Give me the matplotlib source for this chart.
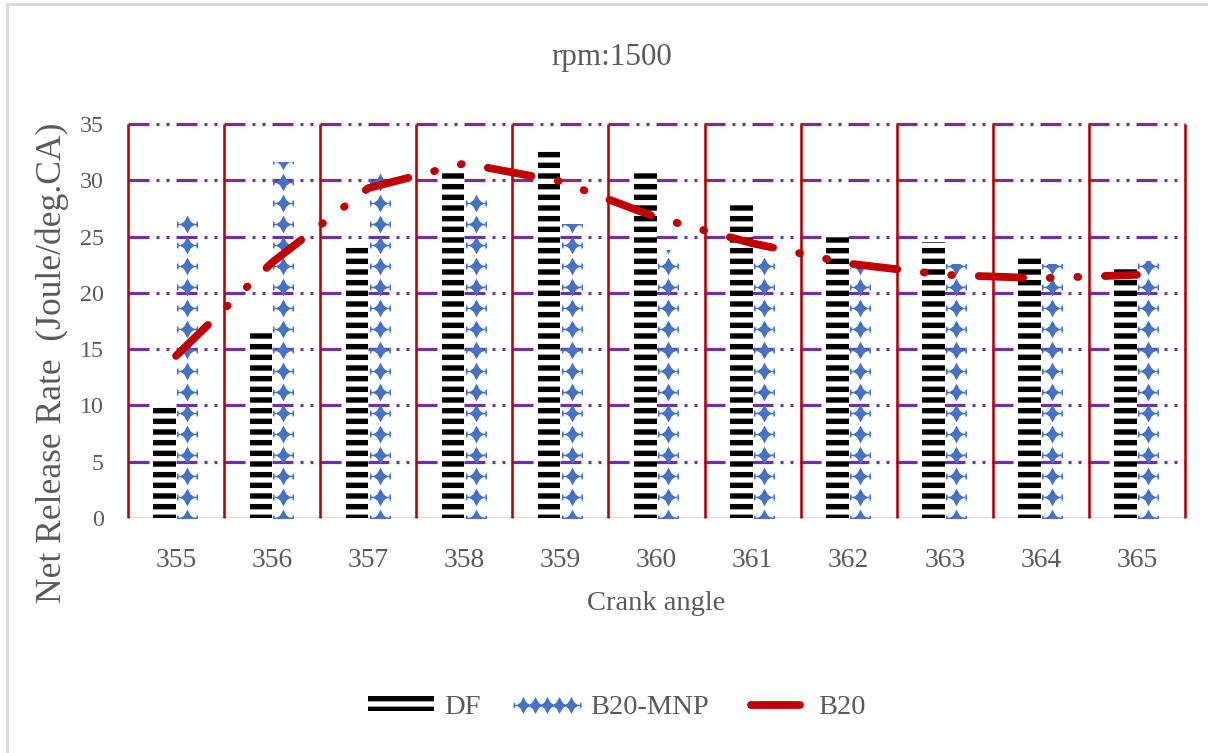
import numpy as np
import matplotlib
matplotlib.use("Agg")
import matplotlib.pyplot as plt
from matplotlib.path import Path
from matplotlib.lines import Line2D
from matplotlib.patches import Patch

# Crank angle (deg) and net heat release rate (Joule/deg.CA)
angles = [355, 356, 357, 358, 359, 360, 361, 362, 363, 364, 365]
df_values = [10.1, 16.9, 24.4, 30.9, 32.8, 30.8, 27.8, 25.4, 24.5, 23.2, 22.6]
b20_mnp_values = [27.0, 31.6, 30.7, 28.9, 26.1, 23.8, 23.4, 22.2, 22.6, 22.6, 22.8]
b20_values = [14.4, 22.7, 29.3, 31.5, 29.9, 26.7, 24.4, 22.6, 21.6, 21.3, 21.6]
y_ticks = [0, 5, 10, 15, 20, 25, 30, 35]

DPI = 128
PX = 72.0 / DPI  # points per pixel

plt.rcParams["font.family"] = ["Liberation Serif", "DejaVu Serif"]
plt.rcParams["lines.scale_dashes"] = False
plt.rcParams["hatch.linewidth"] = 5.4 * PX

TEXT = "#595959"
PURPLE = "#7030A0"
RED = "#C00000"
BLUE = "#4472C4"
BLACK = "#000000"

fig = plt.figure(figsize=(1208 / DPI, 753 / DPI), dpi=DPI)
ax = fig.add_axes([128 / 1208, 1 - 518 / 753, (1185 - 128) / 1208, (518 - 124) / 753])
ax.set_xlim(354.5, 365.5)
ax.set_ylim(0, 35)
for s in ax.spines.values():
    s.set_visible(False)

# dash-dot-dot horizontal gridlines
grid_dash = (0, (21 * PX, 7 * PX, 3 * PX, 7 * PX, 3 * PX, 7 * PX))
ax.hlines(y_ticks[1:], 354.5, 365.5, colors=PURPLE, linewidth=3.2 * PX,
          linestyles=[grid_dash], zorder=1, clip_on=False)
ax.axhline(0, color="#D9D9D9", linewidth=2.2 * PX, zorder=1)

# red separators between crank-angle categories
bounds = np.arange(354.5, 366.0, 1.0)
ax.vlines(bounds, 0, 35, colors=RED, linewidth=2.6 * PX, zorder=1, clip_on=False)

x = np.array(angles, dtype=float)
w = 0.235

# DF: striped black bars
df_bars = ax.bar(x, df_values, width=-w, align="edge", facecolor="white",
                 edgecolor=BLACK, linewidth=0, hatch="--", zorder=2)

# B20-MNP: bars filled with a column of blue star-diamond glyphs
star = [(0, 0.85), (-0.3, 0.3), (-0.68, 0), (-0.3, -0.3), (0, -0.85),
        (0.3, -0.3), (0.68, 0), (0.3, 0.3), (0, 0.85)]
rung = [(-0.95, -0.07), (0.95, -0.07), (0.95, 0.07), (-0.95, 0.07), (-0.95, -0.07)]
tick_r = [(0.86, -0.28), (1.0, -0.28), (1.0, 0.28), (0.86, 0.28), (0.86, -0.28)]
tick_l = [(-1.0, -0.28), (-0.86, -0.28), (-0.86, 0.28), (-1.0, 0.28), (-1.0, -0.28)]
paths = [Path(p, closed=True) for p in (star, rung, tick_r, tick_l)]
glyph = Path.make_compound_path(*paths)

mnp_bars = ax.bar(x, b20_mnp_values, width=w, align="edge", facecolor="none",
                  edgecolor="none", linewidth=0, zorder=2)
rows = np.arange(0, 36, 1.865)
for xi, bar in zip(x, mnp_bars):
    sc = ax.scatter(np.full(rows.shape, xi + w / 2), rows, marker=glyph,
                    s=(21 * PX) ** 2, color=BLUE, linewidths=0, zorder=3)
    sc.set_clip_path(bar)

# B20: thick red long-dash-dot-dot line
b20_dash = (0, (25, 15, 0.5, 15, 0.5, 15))
ax.plot(x, b20_values, color=RED, linewidth=7.8 * PX, linestyle=b20_dash,
        dash_capstyle="round", zorder=4)

ax.set_yticks(y_ticks)
ax.set_yticklabels([str(v) for v in y_ticks])
ax.set_xticks(x)
ax.set_xticklabels([str(a) for a in angles])
ax.tick_params(axis="y", length=0, pad=24 * PX, labelsize=13.5, labelcolor=TEXT)
ax.tick_params(axis="x", length=0, pad=30 * PX, labelsize=15.5, labelcolor=TEXT)

ax.set_xlabel("Crank angle", fontsize=16, color=TEXT, labelpad=18 * PX)
fig.text(52 / 1208, 1 - 363 / 753, "Net Release Rate  (Joule/deg.CA)",
         rotation=90, ha="center", va="center", fontsize=20, color=TEXT)
fig.text(612 / 1208, 1 - 57 / 753, "rpm:1500", ha="center", va="center",
         fontsize=17.5, color=TEXT)

# legend
h_df = Patch(facecolor="white", edgecolor=BLACK, linewidth=0, hatch="--")
h_mnp = Line2D([], [], linestyle="none", marker=glyph, markersize=20 * PX,
               color=BLUE, markeredgewidth=0)
h_b20 = Line2D([], [], color=RED, linewidth=7.8 * PX, solid_capstyle="round")
fig.legend([h_df, h_mnp, h_b20], ["DF", "B20-MNP", "B20"], loc="center",
           bbox_to_anchor=(617 / 1208, 1 - 707 / 753), ncol=3, frameon=False,
           fontsize=16, labelcolor=TEXT, numpoints=5, handlelength=2.3,
           handletextpad=0.35, columnspacing=1.2, handleheight=0.45)

# light outer frame along the top and left edge
frame_c = "#D9D9D9"
fig.add_artist(Line2D([7 / 1208, 1], [1 - 4 / 753, 1 - 4 / 753], transform=fig.transFigure,
                      color=frame_c, linewidth=3 * PX))
fig.add_artist(Line2D([7 / 1208, 7 / 1208], [0, 1 - 4 / 753], transform=fig.transFigure,
                      color=frame_c, linewidth=3 * PX))

fig.savefig("out.png", dpi=DPI, facecolor="white")
